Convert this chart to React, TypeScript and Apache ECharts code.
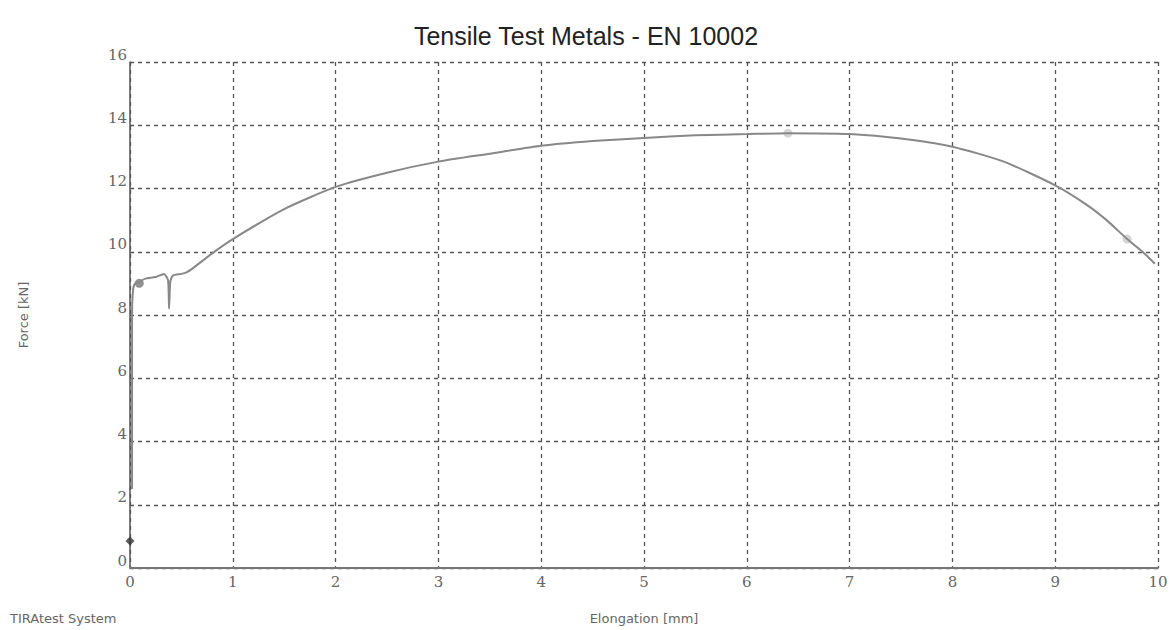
import { useEffect, useRef } from 'react';
import * as echarts from 'echarts';

// elongation [mm], force [kN]
const curveX = [0.02, 0.02, 0.03, 0.05, 0.09, 0.15, 0.25, 0.33, 0.37, 0.38, 0.39, 0.4, 0.42, 0.5, 0.55, 0.6, 0.8, 1, 1.5, 2, 2.5, 3, 3.5, 4, 4.5, 5, 5.5, 6, 6.4, 7, 7.5, 8, 8.5, 9, 9.3, 9.5, 9.7, 9.85, 9.97];
const curveY = [2.5, 8.0, 8.8, 9.0, 9.05, 9.15, 9.2, 9.3, 9.1, 8.2, 9.0, 9.15, 9.25, 9.3, 9.35, 9.45, 9.95, 10.4, 11.35, 12.05, 12.5, 12.85, 13.1, 13.35, 13.5, 13.6, 13.68, 13.72, 13.75, 13.72, 13.58, 13.32, 12.85, 12.1, 11.5, 11.0, 10.4, 10.0, 9.62];
const markerPts = [
  { x: 0, y: 0.85, color: '#333', symbol: 'diamond', size: 9 },
  { x: 0.09, y: 9.0, color: '#777', symbol: 'circle', size: 9 },
  { x: 6.4, y: 13.75, color: '#ccc', symbol: 'circle', size: 9 },
  { x: 9.7, y: 10.4, color: '#ccc', symbol: 'circle', size: 9 },
];

export default function App() {
  const ref = useRef<HTMLDivElement>(null);

  useEffect(() => {
    document.body.style.margin = '0';
    if (!ref.current) return;
    const chart = echarts.init(ref.current, null, { renderer: 'svg' });
    const labelStyle = { color: '#666', fontSize: 15, fontFamily: 'DejaVu Serif' };
    chart.setOption({
      animation: false,
      title: {
        text: 'Tensile Test Metals - EN 10002',
        left: 'center',
        top: 18,
        textStyle: { fontFamily: 'Liberation Sans', fontSize: 25, fontWeight: 'normal', color: '#222' },
      },
      graphic: [
        { type: 'text', left: 10, top: 612, style: { text: 'TIRAtest System', fontSize: 13, fill: '#666', fontFamily: 'DejaVu Sans' } },
      ],
      grid: { left: 130, right: 14, top: 62, bottom: 60 },
      xAxis: {
        type: 'value',
        min: 0,
        max: 10,
        interval: 1,
        name: 'Elongation [mm]',
        nameLocation: 'middle',
        nameGap: 44,
        nameTextStyle: { color: '#666', fontSize: 13, fontFamily: 'DejaVu Sans' },
        axisLine: { lineStyle: { color: '#777', width: 2 } },
        axisTick: { show: false },
        axisLabel: { ...labelStyle, margin: 6 },
        splitLine: { lineStyle: { color: '#555', type: [4, 4], width: 1.3 } },
      },
      yAxis: {
        type: 'value',
        min: 0,
        max: 16,
        interval: 2,
        name: 'Force [kN]',
        nameLocation: 'middle',
        nameGap: 100,
        nameTextStyle: { color: '#666', fontSize: 13, fontFamily: 'DejaVu Sans' },
        axisLine: { show: true, lineStyle: { color: '#555', width: 1.5 } },
        axisTick: { show: false },
        axisLabel: { ...labelStyle, margin: 3, verticalAlign: 'bottom' },
        splitLine: { lineStyle: { color: '#555', type: [4, 4], width: 1.3 } },
      },
      series: [
        {
          type: 'line',
          data: curveX.map((x, i) => [x, curveY[i]]),
          smooth: 0.2,
          symbol: 'none',
          lineStyle: { color: '#888', width: 2 },
        },
        {
          type: 'scatter',
          data: markerPts.map((p) => ({
            value: [p.x, p.y],
            symbol: p.symbol,
            symbolSize: p.size,
            itemStyle: { color: p.color },
          })),
        },
      ],
    });
    return () => chart.dispose();
  }, []);

  return <div ref={ref} style={{ width: 1172, height: 630 }} />;
}
